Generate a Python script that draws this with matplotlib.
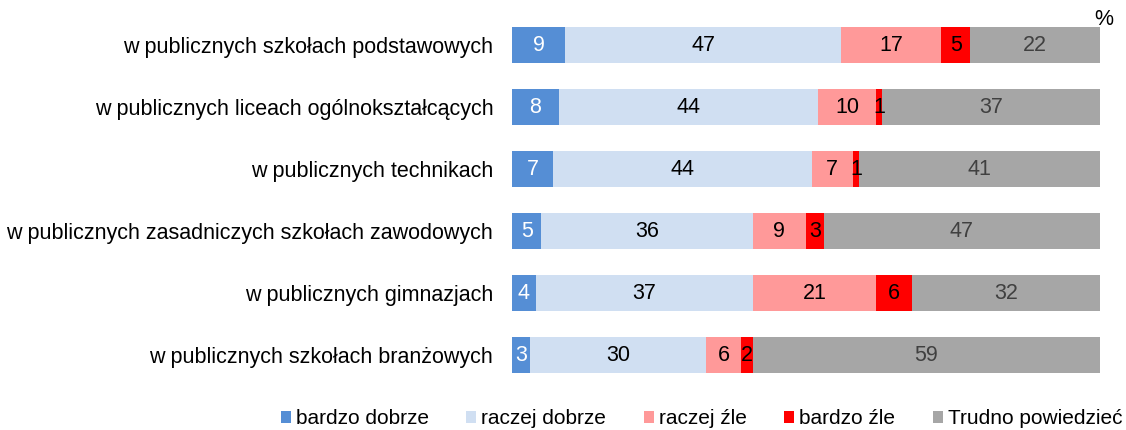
import numpy as np
import matplotlib.pyplot as plt
from matplotlib.patches import Patch

plt.rcParams['font.family'] = ['Liberation Sans', 'DejaVu Sans']

categories = [
    "w publicznych szkołach podstawowych",
    "w publicznych liceach ogólnokształcących",
    "w publicznych technikach",
    "w publicznych zasadniczych szkołach zawodowych",
    "w publicznych gimnazjach",
    "w publicznych szkołach branżowych",
]
series_names = ["bardzo dobrze", "raczej dobrze", "raczej źle", "bardzo źle", "Trudno powiedzieć"]
bardzo_dobrze = [9, 8, 7, 5, 4, 3]
raczej_dobrze = [47, 44, 44, 36, 37, 30]
raczej_zle = [17, 10, 7, 9, 21, 6]
bardzo_zle = [5, 1, 1, 3, 6, 2]
trudno = [22, 37, 41, 47, 32, 59]

colors = ["#558ED5", "#D0DFF2", "#FF9999", "#FF0000", "#A6A6A6"]
text_colors = ["white", "black", "black", "black", "#404040"]

fig = plt.figure(figsize=(11.26, 4.3), dpi=100)
ax = fig.add_axes([0.4547, 0.102, 0.522, 0.865])

y = np.arange(len(categories))
left = np.zeros(len(categories))
for vals, col, tc in zip([bardzo_dobrze, raczej_dobrze, raczej_zle, bardzo_zle, trudno], colors, text_colors):
    vals = np.array(vals, dtype=float)
    ax.barh(y, vals, left=left, height=0.58, color=col)
    for yi, l, v in zip(y, left, vals):
        ax.text(l + v / 2, yi, f"{int(v)}", ha="center", va="center", fontsize=15.5, color=tc)
    left += vals

ax.set_xlim(0, 100)
ax.set_ylim(len(categories) - 0.5, -0.5)
ax.set_yticks(y)
ax.set_yticklabels(categories, fontsize=15.5)
ax.tick_params(axis="y", length=0, pad=13.5)
ax.set_xticks([])
for s in ax.spines.values():
    s.set_visible(False)

fig.text(0.98, 0.955, "%", fontsize=15.5, ha="center", va="center")

handles = [Patch(facecolor=c) for c in colors]
fig.legend(handles, series_names, loc="lower center", bbox_to_anchor=(0.623, -0.04), ncol=5,
           frameon=False, fontsize=15, handlelength=0.48, handleheight=0.48, handletextpad=0.24,
           columnspacing=1.8)

fig.savefig("out.png", dpi=100)
